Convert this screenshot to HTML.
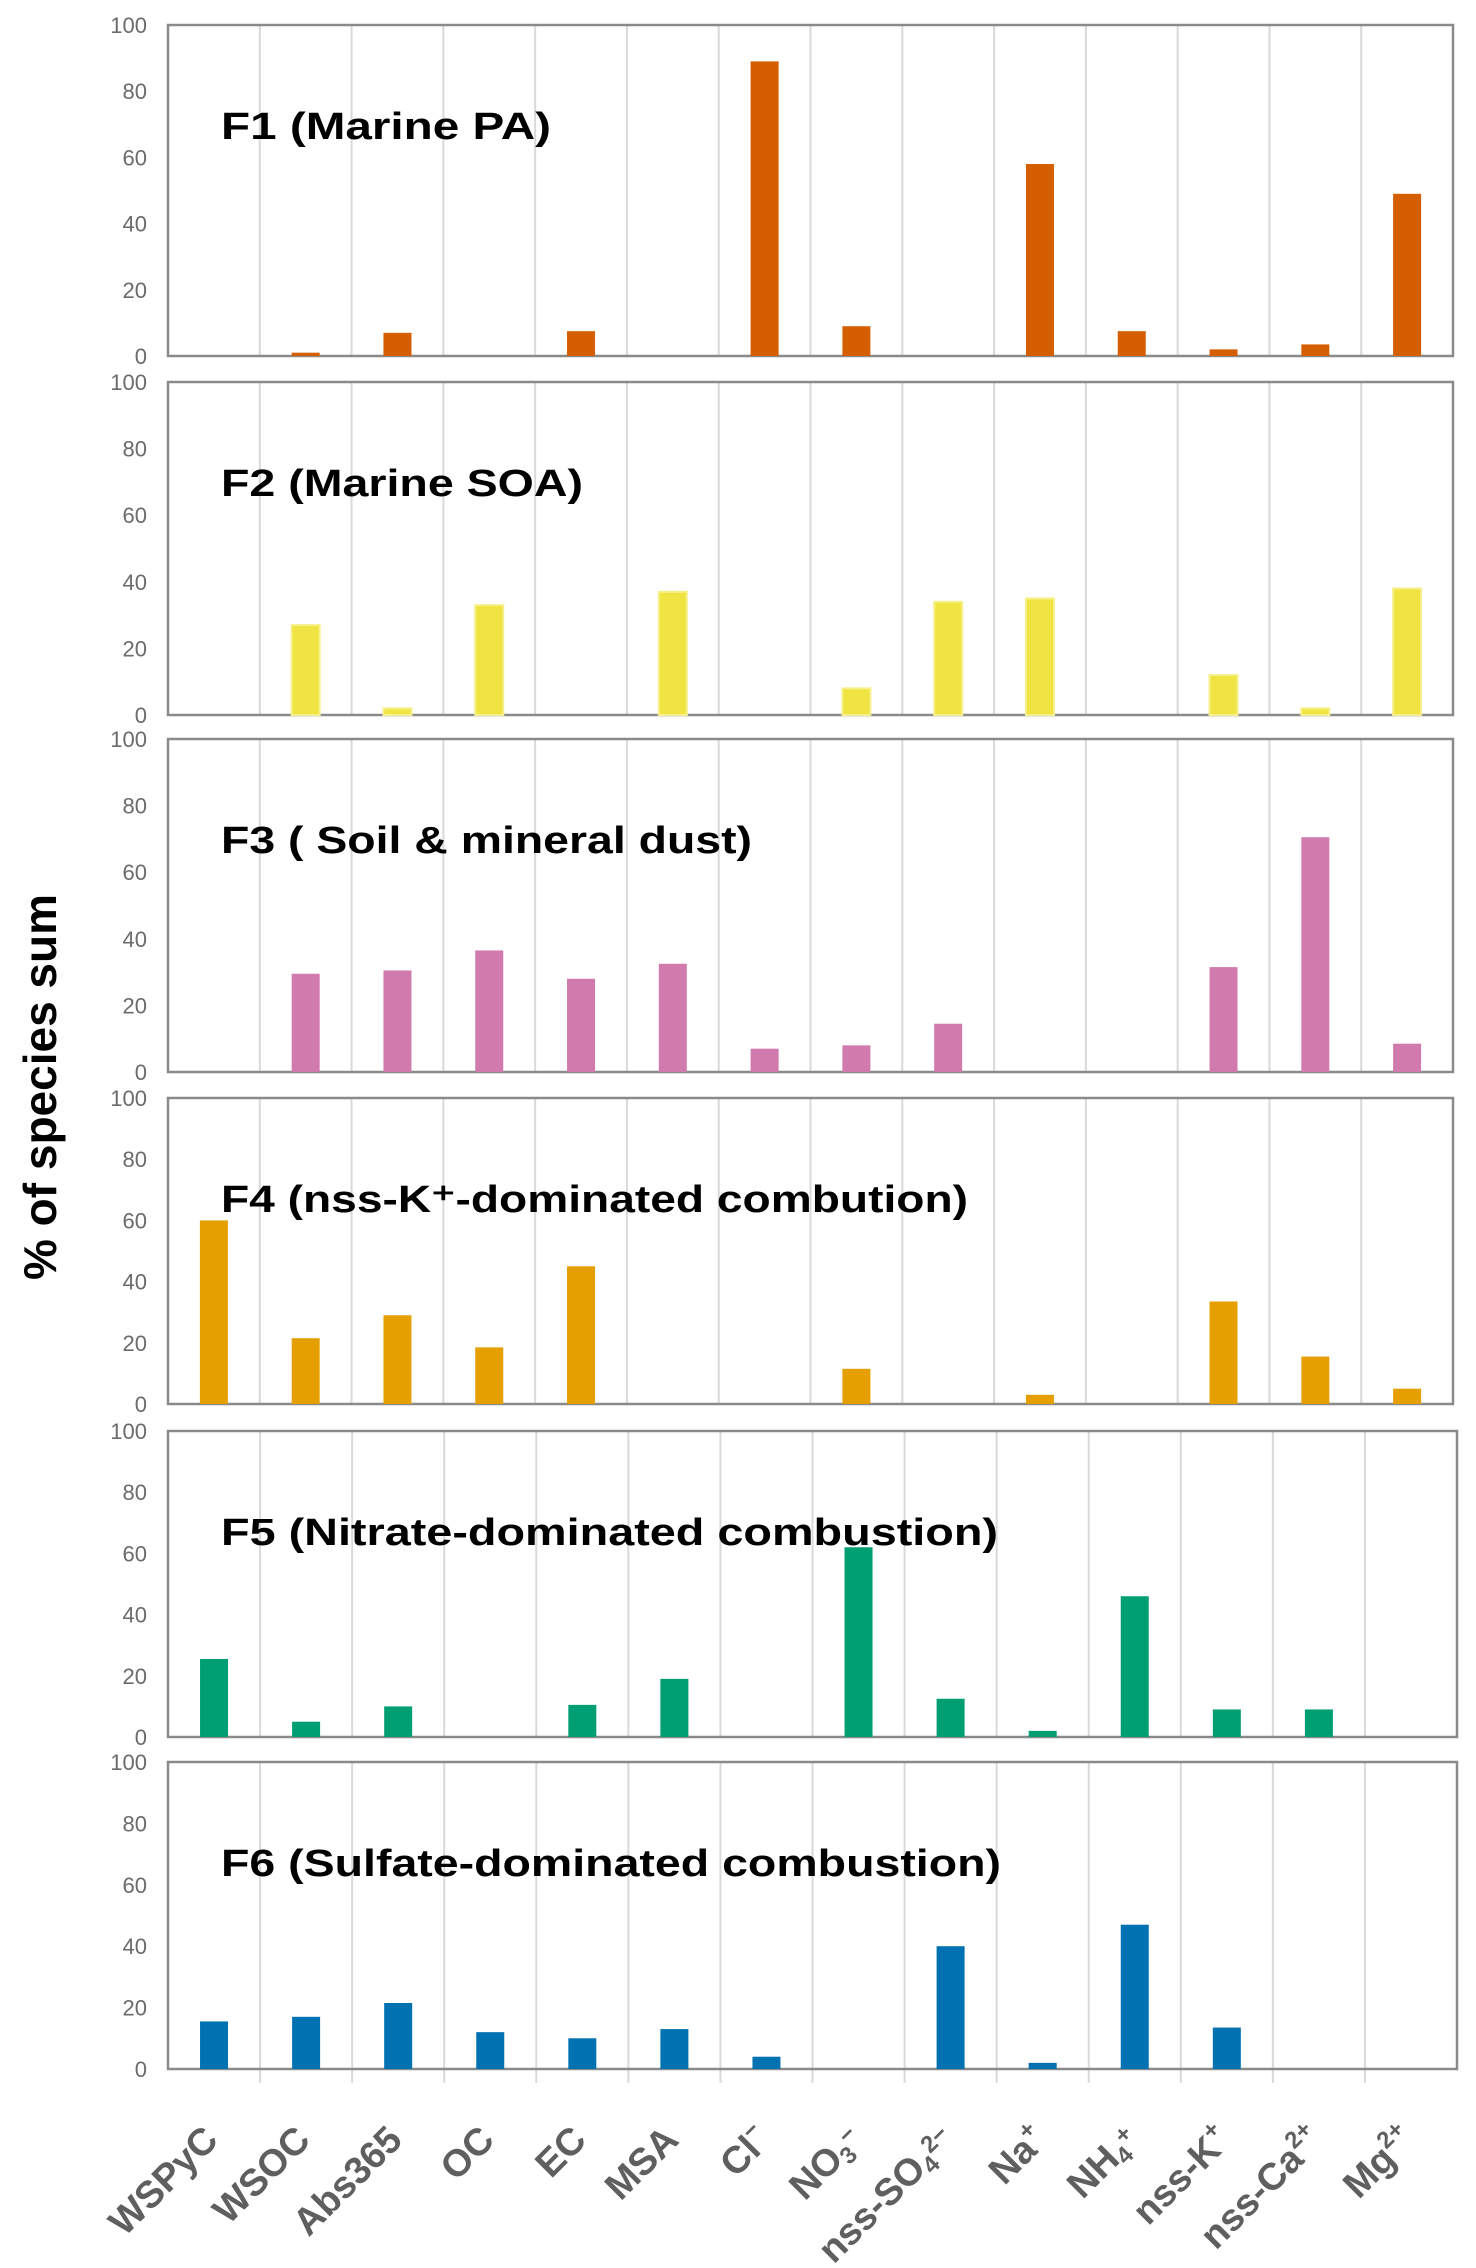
<!DOCTYPE html>
<html><head><meta charset="utf-8">
<style>
html,body{margin:0;padding:0;background:#fff;}
svg{display:block;}
text{font-family:"Liberation Sans",sans-serif;}
</style></head>
<body>
<svg id="chart" width="1476" height="2268" viewBox="0 0 1476 2268" xmlns="http://www.w3.org/2000/svg">
<text transform="translate(56,1087) rotate(-90)" text-anchor="middle" font-size="46" font-weight="bold" fill="#000">% of species sum</text>
<g id="panels"></g>
<g id="xlabels"></g>
</svg>
<script>
const categories = ["WSPyC","WSOC","Abs365","OC","EC","MSA","Cl","NO3","nss-SO4","Na","NH4","nss-K","nss-Ca","Mg"];
const yTicks = [0,20,40,60,80,100];
const f1Values = [0,1,7,0,7.5,0,89,9,0,58,7.5,2,3.5,49];
const f2Values = [0,27,2,33,0,37,0,8,34,35,0,12,2,38];
const f3Values = [0,29.5,30.5,36.5,28,32.5,7,8,14.5,0,0,31.5,70.5,8.5];
const f4Values = [60,21.5,29,18.5,45,0,0,11.5,0,3,0,33.5,15.5,5];
const f5Values = [25.5,5,10,0,10.5,19,0,62,12.5,2,46,9,9,0];
const f6Values = [15.5,17,21.5,12,10,13,4,0,40,2,47,13.5,0,0];
const titles = ["F1 (Marine PA)","F2 (Marine SOA)","F3 ( Soil & mineral dust)","F4 (nss-K\u207A-dominated  combution)","F5 (Nitrate-dominated  combustion)","F6 (Sulfate-dominated  combustion)"];

const NS="http://www.w3.org/2000/svg";
const panelsCfg = [
 {vals:f1Values,top:25,bottom:356,color:"#D55E00",right:1453,tw:330},
 {vals:f2Values,top:382,bottom:715,color:"#F0E442",right:1453,tw:362},
 {vals:f3Values,top:739,bottom:1072,color:"#D17AAD",right:1453,tw:531},
 {vals:f4Values,top:1098,bottom:1404,color:"#E69F00",right:1453,tw:747},
 {vals:f5Values,top:1431,bottom:1737,color:"#009E73",right:1457,tw:777},
 {vals:f6Values,top:1762,bottom:2069,color:"#0072B2",right:1457,tw:780}
];
const LEFT=168;
function mk(tag,attrs,parent){const e=document.createElementNS(NS,tag);for(const k in attrs)e.setAttribute(k,attrs[k]);parent.appendChild(e);return e;}
const gp=document.getElementById('panels');
panelsCfg.forEach((p,pi)=>{
  const g=mk('g',{},gp);
  
  
  const slot=(p.right-LEFT)/categories.length;
  const xC=i=>LEFT+slot*(i+0.5);
  const yS=v=>p.bottom-(v/100)*(p.bottom-p.top);
  // gridlines
  for(let i=1;i<categories.length;i++){
    const l=mk('line',{x1:LEFT+slot*i,x2:LEFT+slot*i,y1:p.top,y2:pi===5?p.bottom+14:p.bottom,stroke:"#d9d9d9","stroke-width":2},g);
    
    
  }
  // frame
  const fr=mk('rect',{x:LEFT,y:p.top,width:p.right-LEFT,height:p.bottom-p.top,fill:"none",stroke:"#8a8a8a","stroke-width":2.5},g);
  
  
  // ticks
  yTicks.forEach(t=>{
    const tx=mk('text',{x:147,y:yS(t)+8,"text-anchor":"end","font-size":22,fill:"#6b6b6b"},g);
    tx.textContent=t;
    
    
  });
  // bars
  p.vals.forEach((v,i)=>{
    if(v<=0)return;
    const r=mk('rect',{x:xC(i)-14,y:yS(v),width:28,height:p.bottom-yS(v),fill:p.color},g);
    if(pi===1){r.setAttribute('stroke','#f7ef8a');r.setAttribute('stroke-width','2');}
    
    
  });
  const tt=mk('text',{x:221,y:p.top+114,"font-size":38,"font-weight":"bold",fill:"#000",textLength:p.tw,lengthAdjust:"spacingAndGlyphs"},g);
  tt.textContent=titles[pi];
  
  
});
// x labels with sub/superscripts
const labelParts=[
 [["WSPyC",""]],[["WSOC",""]],[["Abs365",""]],[["OC",""]],[["EC",""]],[["MSA",""]],
 [["Cl",""],["\u2212","sup"]],
 [["NO",""],["3","sub"],["\u2212","sup"]],
 [["nss-SO",""],["4","sub"],["2\u2212","sup"]],
 [["Na",""],["+","sup"]],
 [["NH",""],["4","sub"],["+","sup"]],
 [["nss-K",""],["+","sup"]],
 [["nss-Ca",""],["2+","sup"]],
 [["Mg",""],["2+","sup"]]
];
const gx=document.getElementById('xlabels');
const slotB=(1457-LEFT)/categories.length;
labelParts.forEach((parts,i)=>{
  const cx=LEFT+slotB*(i+0.5)+6;
  const t=mk('text',{transform:`translate(${cx},2142) rotate(-45)`,"text-anchor":"end","font-size":38,"font-weight":"bold",fill:"#5f5f5f"},gx);
  
  
  parts.forEach(([s,k])=>{
    const ts=mk('tspan',{},t);
    if(k==='sup'){ts.setAttribute('font-size','24');ts.setAttribute('dy','-16');}
    if(k==='sub'){ts.setAttribute('font-size','24');ts.setAttribute('dy','6');}
    ts.textContent=s;
    if(k){const r=mk('tspan',{"font-size":"24",dy:k==='sup'?'16':'-6'},t);r.textContent="";}
  });
});
</script>
</body></html>
